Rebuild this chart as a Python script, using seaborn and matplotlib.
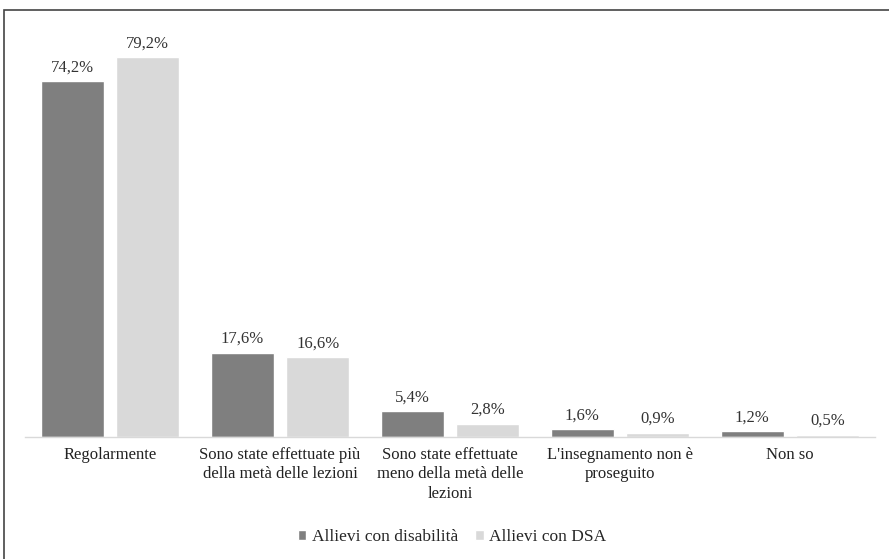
import seaborn as sns
import matplotlib.pyplot as plt
import pandas as pd
from matplotlib.patches import Rectangle

# Data
categories = ["Regolarmente",
              "Sono state effettuate più\ndella metà delle lezioni",
              "Sono state effettuate\nmeno della metà delle\nlezioni",
              "L'insegnamento non è\nproseguito",
              "Non so"]
series = ["Allievi con disabilità", "Allievi con DSA"]
disabilita = [74.2, 17.6, 5.4, 1.6, 1.2]
dsa = [79.2, 16.6, 2.8, 0.9, 0.5]

df = pd.DataFrame({
    "categoria": categories * 2,
    "gruppo": [series[0]] * 5 + [series[1]] * 5,
    "valore": disabilita + dsa,
})

sns.set_style("white")
plt.rcParams['font.family'] = ['Liberation Serif', 'DejaVu Serif']

fig = plt.figure(figsize=(8.89, 5.59), dpi=100)
W, H = 889, 559
ax = fig.add_axes([25 / W, 1 - 437 / H, 850 / W, (437 - 29) / H])

sns.barplot(data=df, x="categoria", y="valore", hue="gruppo",
            palette=["#7f7f7f", "#d9d9d9"], width=0.89, gap=0.17,
            ax=ax, legend=True)

for cont in ax.containers:
    ax.bar_label(cont, labels=[f"{v:.1f}%".replace(".", ",") for v in cont.datavalues],
                 padding=4, fontsize=12, color="#333333")

ax.set_ylim(0, 85)
ax.set_xlim(-0.5, 4.5)
ax.set_xlabel("")
ax.set_ylabel("")
ax.set_yticks([])
ax.tick_params(axis="x", length=0, pad=7, labelsize=12, colors="#222222")
for lbl in ax.get_xticklabels():
    lbl.set_linespacing(1.3)
for s in ["top", "right", "left"]:
    ax.spines[s].set_visible(False)
ax.spines["bottom"].set_color("#d9d9d9")
ax.spines["bottom"].set_linewidth(1)

handles, labels = ax.get_legend_handles_labels()
ax.legend(handles, labels, loc="center", bbox_to_anchor=(452 / W, 1 - 537 / H),
          bbox_transform=fig.transFigure, ncol=2, frameon=False,
          handlelength=0.5, handleheight=0.5, handletextpad=0.3,
          columnspacing=1.0, fontsize=12.5)

# outer frame
fig.patches.append(Rectangle((4 / W, -0.05), 1.0, 1 - 10 / H + 0.05,
                             transform=fig.transFigure, fill=False,
                             edgecolor="#444444", linewidth=1.2))

fig.savefig("out.png", dpi=100)
